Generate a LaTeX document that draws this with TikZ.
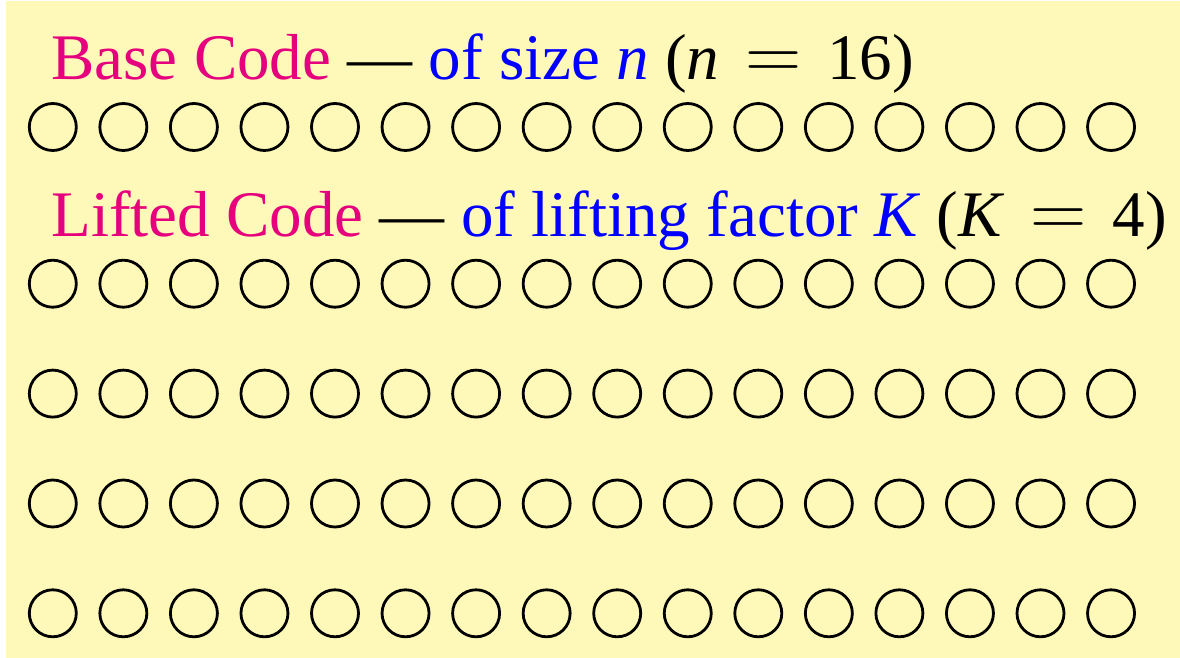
\RequirePackage{fix-cm}
\documentclass[tikz,border=0pt]{standalone}
\usepackage{fontspec}
\setmainfont{Liberation Serif}
\definecolor{bg}{RGB}{255,249,185}
\definecolor{mag}{RGB}{230,0,126}
\begin{document}
\begin{tikzpicture}[x=0.5pt,y=-0.5pt,
  slot/.style={circle,draw=black,line width=1.4pt,minimum size=23.5pt,inner sep=0pt},
  title/.style={anchor=base west,inner sep=0pt,font=\fontsize{32.5}{39}\selectfont}]
\useasboundingbox (0,0) rectangle (1180,658);
\fill[white] (0,0) rectangle (1180,658);
\fill[bg] (6,1) rectangle (1180,658);
\node[title] (t1) at (51,80) {\textcolor{mag}{Base Code} — \textcolor{blue}{of size \textit{n}} (\textit{n}\hspace{.4em}\scalebox{1.2}{$=$}\hspace{.4em}16)};
\node[title] (t2) at (51,236.7) {\textcolor{mag}{Lifted Code} — \textcolor{blue}{of lifting factor \textit{K}} (\textit{K}\hspace{.4em}\scalebox{1.2}{$=$}\hspace{.4em}4)};
\foreach \r/\y in {0/127,1/283.7,2/393.6,3/503.5,4/613.3}{
  \foreach \i in {0,...,15}{
    \node[slot] (c-\r-\i) at ({52.8+70.55*\i},\y) {};
  }
}
\end{tikzpicture}
\end{document}
